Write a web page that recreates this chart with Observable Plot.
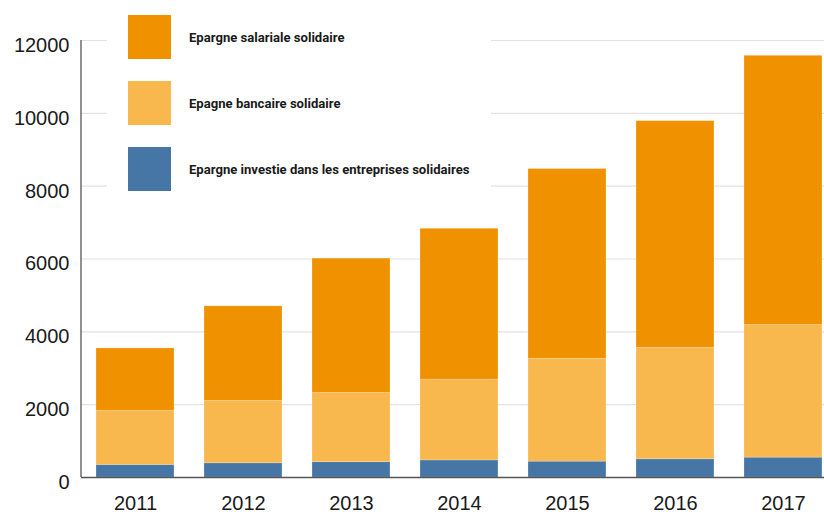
<!DOCTYPE html>
<html>
<head>
<meta charset="utf-8">
<script src="https://cdn.jsdelivr.net/npm/d3@7"></script>
<script src="https://cdn.jsdelivr.net/npm/@observablehq/plot@0.6"></script>
<style>
  html, body { margin: 0; padding: 0; background: #fff; }
  #wrap { position: relative; width: 824px; height: 514px; }
  #legend { position: absolute; left: 107px; top: 0px; width: 384px; height: 200px; background: #fff; }
  .item { position: absolute; left: 21px; display: flex; align-items: center; }
  .sw { width: 43px; height: 44px; }
  .lab { margin-left: 18px; font-family: "Liberation Sans Narrow", "Roboto", sans-serif; font-weight: bold; font-size: 13.1px; color: #1a1a1a; }
</style>
</head>
<body>
<div id="wrap"><div id="chart"></div><div id="legend"></div></div>
<script>
const years = ["2011", "2012", "2013", "2014", "2015", "2016", "2017"];
const seriesNames = [
  "Epargne investie dans les entreprises solidaires",
  "Epagne bancaire solidaire",
  "Epargne salariale solidaire"
];
const seriesColors = ["#4676a6", "#f8b84d", "#f09100"];
const entreprises = [345, 390, 420, 470, 435, 500, 545];
const bancaire = [1480, 1715, 1900, 2220, 2825, 3060, 3640];
const salariale = [1720, 2595, 3690, 4140, 5210, 6225, 7395];
const yTicks = [0, 2000, 4000, 6000, 8000, 10000, 12000];
const legendOrder = [2, 1, 0];

const seriesValues = [entreprises, bancaire, salariale];
const rows = [];
seriesNames.forEach((s, si) => {
  years.forEach((yr, i) => rows.push({year: yr, series: s, value: seriesValues[si][i]}));
});

const plot = Plot.plot({
  width: 824,
  height: 514,
  marginLeft: 81,
  marginRight: 0,
  marginTop: 40,
  marginBottom: 37,
  style: {fontFamily: "'Liberation Sans', Arial, sans-serif", background: "#fff"},
  x: {domain: years, paddingInner: 0.278, paddingOuter: 0.079, align: 0.88, round: false, label: null},
  y: {domain: [0, 12000], label: null},
  color: {domain: seriesNames, range: seriesColors},
  marks: [
    Plot.gridY(yTicks, {stroke: "#e2e2e2", strokeOpacity: 1, strokeWidth: 1.2}),
    Plot.barY(rows, {x: "year", y: "value", fill: "series", stroke: "#ffffff", strokeOpacity: 0.25, strokeWidth: 0.8, insetTop: 0, insetBottom: 0}),
    Plot.ruleY([0], {stroke: "#555", strokeWidth: 1.3}),
    Plot.axisY(yTicks, {tickSize: 0, tickPadding: 12, fontSize: 20, dy: 5, fill: "#1a1a1a", tickFormat: d => String(d), label: null}),
    Plot.axisX({tickSize: 0, tickPadding: 18, fontSize: 20, fill: "#1a1a1a", label: null})
  ]
});
document.getElementById("chart").appendChild(plot);

// vertical y-axis line along the left edge of the frame
const xr = plot.scale("x").range, yr = plot.scale("y").range;
d3.select(plot).append("line")
  .attr("x1", xr[0]).attr("x2", xr[0])
  .attr("y1", yr[0]).attr("y2", yr[1])
  .attr("stroke", "#555").attr("stroke-width", 1.3);

// legend
const leg = document.getElementById("legend");
legendOrder.forEach((si, k) => {
  const it = document.createElement("div");
  it.className = "item";
  it.style.top = (15 + k * 66) + "px";
  const sw = document.createElement("div");
  sw.className = "sw";
  sw.style.background = seriesColors[si];
  const lab = document.createElement("div");
  lab.className = "lab";
  lab.textContent = seriesNames[si];
  it.appendChild(sw); it.appendChild(lab);
  leg.appendChild(it);
});
</script>
</body>
</html>
